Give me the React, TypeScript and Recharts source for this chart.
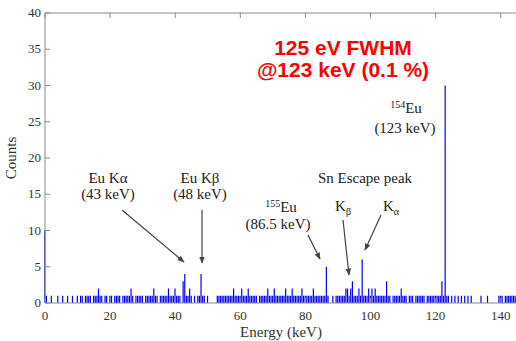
import { Bar, BarChart, XAxis, YAxis } from "recharts";

// counts per 0.5 keV bin, one row per 10 keV
const binWidth = 0.5;
const counts0 = [10, 1, 0, 0, 1, 0, 0, 0, 1, 0, 0, 1, 0, 0, 1, 0, 0, 1, 0, 0];
const counts10 = [1, 0, 1, 1, 0, 1, 1, 1, 1, 0, 1, 1, 1, 2, 1, 1, 0, 1, 1, 0];
const counts20 = [1, 1, 0, 1, 1, 1, 1, 0, 1, 1, 1, 1, 1, 2, 1, 0, 1, 1, 1, 1];
const counts30 = [1, 0, 1, 1, 1, 1, 1, 2, 1, 1, 0, 1, 1, 1, 1, 1, 2, 1, 1, 1];
const counts40 = [2, 1, 1, 1, 0, 3, 4, 1, 1, 2, 1, 0, 1, 0, 1, 1, 4, 1, 1, 0];
const counts50 = [1, 0, 0, 0, 0, 0, 1, 1, 1, 1, 1, 1, 1, 1, 1, 1, 2, 1, 1, 1];
const counts60 = [1, 2, 1, 1, 1, 2, 1, 1, 1, 1, 1, 0, 1, 1, 1, 1, 1, 2, 1, 1];
const counts70 = [1, 2, 1, 1, 1, 1, 1, 1, 2, 1, 1, 1, 2, 1, 1, 1, 1, 1, 2, 1];
const counts80 = [1, 1, 1, 1, 1, 2, 1, 1, 1, 1, 1, 1, 1, 5, 1, 0, 0, 1, 0, 1];
const counts90 = [1, 1, 1, 1, 1, 2, 2, 1, 2, 3, 1, 1, 1, 2, 1, 6, 1, 1, 1, 2];
const counts100 = [1, 2, 1, 2, 1, 1, 1, 1, 1, 1, 3, 1, 1, 0, 1, 1, 1, 1, 1, 2];
const counts110 = [1, 1, 1, 0, 1, 1, 1, 0, 1, 1, 1, 1, 1, 1, 0, 1, 1, 1, 1, 1];
const counts120 = [1, 1, 1, 1, 3, 1, 30, 1, 1, 0, 1, 0, 1, 0, 1, 0, 1, 0, 1, 0];
const counts130 = [1, 0, 1, 0, 0, 0, 0, 0, 1, 0, 0, 0, 1, 0, 0, 0, 0, 0, 0, 1];
const counts140 = [1, 1, 0, 1, 1, 1, 1, 1, 1, 1, 1];

const xTicks = [0, 20, 40, 60, 80, 100, 120, 140];
const yTicks = [0, 5, 10, 15, 20, 25, 30, 35, 40];

const counts = [
  ...counts0, ...counts10, ...counts20, ...counts30, ...counts40,
  ...counts50, ...counts60, ...counts70, ...counts80, ...counts90,
  ...counts100, ...counts110, ...counts120, ...counts130, ...counts140,
];
const data = counts.map((c, i) => ({ energy: i * binWidth, counts: c }));

const axisColor = "#8a8a8a";
const labelColor = "#333";
const serif = "'Liberation Serif', 'Times New Roman', serif";

const BottomTick = ({ x, y, payload }: any) => (
  <g>
    <line x1={x} x2={x} y1={y} y2={y - 5} stroke={axisColor} />
    <text x={x} y={y + 17} textAnchor="middle" fontSize={13} fontFamily={serif} fill={labelColor}>
      {payload.value}
    </text>
  </g>
);

const LeftTick = ({ x, y, payload }: any) => (
  <g>
    <line x1={x} x2={x + 5} y1={y} y2={y} stroke={axisColor} />
    <text x={x - 4} y={y + 4} textAnchor="end" fontSize={13} fontFamily={serif} fill={labelColor}>
      {payload.value}
    </text>
  </g>
);

const TopTick = ({ x, y }: any) => <line x1={x} x2={x} y1={y} y2={y + 5} stroke={axisColor} />;
const RightTick = ({ x, y }: any) => <line x1={x} x2={x - 5} y1={y} y2={y} stroke={axisColor} />;

const Annotations = () => {
  const t = { fontFamily: serif, fontSize: 15, fill: "#222", textAnchor: "middle" as const };
  const arrow = { stroke: "#444", strokeWidth: 1.2, markerEnd: "url(#head)" };
  return (
    <svg width={516} height={341} style={{ position: "absolute", left: 0, top: 0, pointerEvents: "none" }}>
      <defs>
        <marker id="head" viewBox="0 0 10 10" refX="9" refY="5" markerWidth="6" markerHeight="6" orient="auto">
          <path d="M0,1 L10,5 L0,9 z" fill="#444" />
        </marker>
      </defs>
      <text x={343} y={55} textAnchor="middle" fontSize={21} fontWeight="bold" fill="#ff0000" fontFamily="'Liberation Sans', Arial, sans-serif">
        125 eV FWHM
      </text>
      <text x={343} y={77} textAnchor="middle" fontSize={21} fontWeight="bold" fill="#ff0000" fontFamily="'Liberation Sans', Arial, sans-serif">
        @123 keV (0.1 %)
      </text>

      <text {...t} x={406} y={113}>
        <tspan fontSize={10} dy={-5}>154</tspan>
        <tspan dy={5}>Eu</tspan>
      </text>
      <text {...t} x={405} y={133}>(123 keV)</text>

      <text {...t} x={108} y={183}>Eu Kα</text>
      <text {...t} x={108} y={199}>(43 keV)</text>
      <text {...t} x={200} y={183}>Eu Kβ</text>
      <text {...t} x={200} y={199}>(48 keV)</text>
      <line x1={122} y1={210} x2={184} y2={262} {...arrow} />
      <line x1={202} y1={210} x2={202} y2={263} {...arrow} />

      <text {...t} x={281} y={212}>
        <tspan fontSize={10} dy={-5}>155</tspan>
        <tspan dy={5}>Eu</tspan>
      </text>
      <text {...t} x={278} y={229}>(86.5 keV)</text>
      <line x1={308} y1={235} x2={320} y2={259} {...arrow} />

      <text {...t} x={365} y={183}>Sn Escape peak</text>
      <text {...t} x={343} y={211}>
        K<tspan fontSize={10} dy={4}>β</tspan>
      </text>
      <text {...t} x={391} y={211}>
        K<tspan fontSize={10} dy={4}>α</tspan>
      </text>
      <line x1={343} y1={220} x2={349} y2={275} {...arrow} />
      <line x1={381} y1={215} x2={365} y2={250} {...arrow} />
    </svg>
  );
};

export default function App() {
  return (
    <div style={{ position: "fixed", left: 0, top: 0, width: 516, height: 341, overflow: "hidden", background: "#fff" }}>
      <BarChart
        width={520}
        height={341}
        data={data}
        margin={{ top: 12, right: 2, bottom: 37, left: 44 }}
        barGap={0}
        barCategoryGap={0}
      >
        <XAxis
          dataKey="energy"
          type="number"
          domain={[0, 145]}
          ticks={xTicks}
          height={1}
          tickLine={false}
          tickSize={0}
          tickMargin={0}
          stroke={axisColor}
          tick={<BottomTick />}
          interval={0}
        />
        <XAxis
          xAxisId="top"
          orientation="top"
          dataKey="energy"
          type="number"
          domain={[0, 145]}
          ticks={xTicks}
          height={1}
          tickLine={false}
          tickSize={0}
          tickMargin={0}
          stroke={axisColor}
          tick={<TopTick />}
          interval={0}
        />
        <YAxis
          type="number"
          domain={[0, 40]}
          ticks={yTicks}
          width={1}
          tickLine={false}
          tickSize={0}
          tickMargin={0}
          stroke={axisColor}
          tick={<LeftTick />}
          interval={0}
        />
        <YAxis
          yAxisId="right"
          orientation="right"
          type="number"
          domain={[0, 40]}
          ticks={yTicks}
          width={1}
          tickLine={false}
          tickSize={0}
          tickMargin={0}
          stroke={axisColor}
          tick={<RightTick />}
          interval={0}
        />
        <Bar dataKey="counts" fill="#0000ff" barSize={1.2} isAnimationActive={false} />
        <text x={16} y={158} transform="rotate(-90 16 158)" textAnchor="middle" fontSize={15} fontFamily={serif} fill={labelColor}>
          Counts
        </text>
        <text x={281} y={337} textAnchor="middle" fontSize={15} fontFamily={serif} fill={labelColor}>
          Energy (keV)
        </text>
      </BarChart>
      <Annotations />
    </div>
  );
}
